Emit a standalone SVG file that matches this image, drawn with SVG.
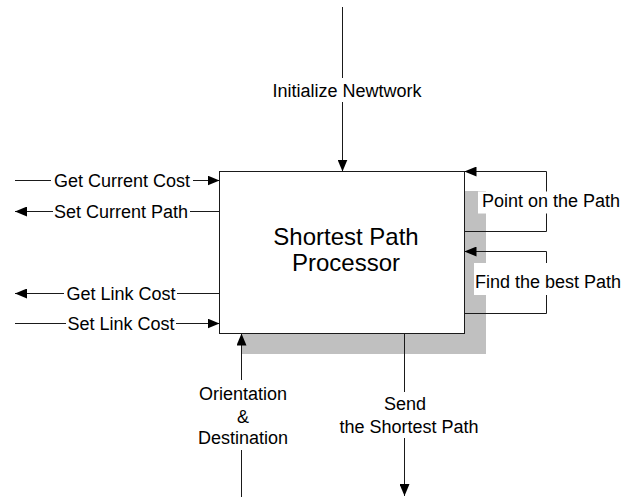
<svg xmlns="http://www.w3.org/2000/svg" width="629" height="497" viewBox="0 0 629 497">
  <defs>
    <marker id="arrow" markerUnits="userSpaceOnUse" markerWidth="12" markerHeight="10" refX="12" refY="5" orient="auto">
      <path d="M0,0 L12,5 L0,10 Z" fill="#000"/>
    </marker>
    <style>
      .wire { fill: none; stroke: #1a1a1a; stroke-width: 1; }
      .flow { marker-end: url(#arrow); }
      .bg { fill: #fff; stroke: none; }
      .lbl { font-family: "Liberation Sans", Arial, sans-serif; font-size: 18px; fill: #000; text-anchor: middle; }
      .title { font-family: "Liberation Sans", Arial, sans-serif; font-size: 24px; fill: #000; text-anchor: middle; }
    </style>
  </defs>
  <rect width="629" height="497" fill="#fff"/>

  <!-- process box with drop shadow -->
  <g id="processor">
    <rect x="241.5" y="191" width="244.5" height="163" fill="#c0c0c0"/>
    <rect x="219.5" y="171.5" width="245" height="162" fill="#fff" stroke="#1a1a1a" stroke-width="1"/>
    <text class="title" x="346" y="245">Shortest Path</text>
    <text class="title" x="346" y="270.5">Processor</text>
  </g>

  <!-- data flows -->
  <g id="connectors">
    <!-- top input -->
    <path class="wire flow" d="M342.5,7 V171.5"/>
    <rect class="bg" x="270" y="78" width="155" height="24"/>
    <text class="lbl" x="347" y="96.5">Initialize Newtwork</text>

    <!-- left side -->
    <path class="wire flow" d="M15,180.5 H219.5"/>
    <rect class="bg" x="51" y="170" width="142" height="20"/>
    <text class="lbl" x="122" y="187">Get Current Cost</text>

    <path class="wire flow" d="M219.5,211.5 H15"/>
    <rect class="bg" x="53" y="201" width="137" height="20"/>
    <text class="lbl" x="121" y="218">Set Current Path</text>

    <path class="wire flow" d="M219.5,293.5 H15"/>
    <rect class="bg" x="64" y="283" width="113" height="20"/>
    <text class="lbl" x="121" y="300">Get Link Cost</text>

    <path class="wire flow" d="M15,323.5 H219.5"/>
    <rect class="bg" x="66" y="313" width="110" height="20"/>
    <text class="lbl" x="121" y="330">Set Link Cost</text>

    <!-- right side feedback loops -->
    <path class="wire flow" d="M464.5,231.5 H546.5 V171.5 H464.5"/>
    <rect class="bg" x="478" y="191.5" width="146" height="22"/>
    <text class="lbl" x="551" y="207">Point on the Path</text>

    <path class="wire flow" d="M464.5,313.5 H546.5 V251.5 H464.5"/>
    <rect class="bg" x="474" y="263" width="150" height="32"/>
    <text class="lbl" x="548" y="288">Find the best Path</text>

    <!-- bottom input -->
    <path class="wire flow" d="M241.5,497 V333.5"/>
    <rect class="bg" x="195" y="380" width="100" height="70"/>
    <text class="lbl" x="243" y="400">Orientation</text>
    <text class="lbl" x="243" y="423">&amp;</text>
    <text class="lbl" x="243" y="444">Destination</text>

    <!-- bottom output -->
    <path class="wire flow" d="M404.5,333.5 V496"/>
    <rect class="bg" x="338" y="392" width="144" height="46"/>
    <text class="lbl" x="405" y="410">Send</text>
    <text class="lbl" x="409" y="432.5">the Shortest Path</text>
  </g>
</svg>
